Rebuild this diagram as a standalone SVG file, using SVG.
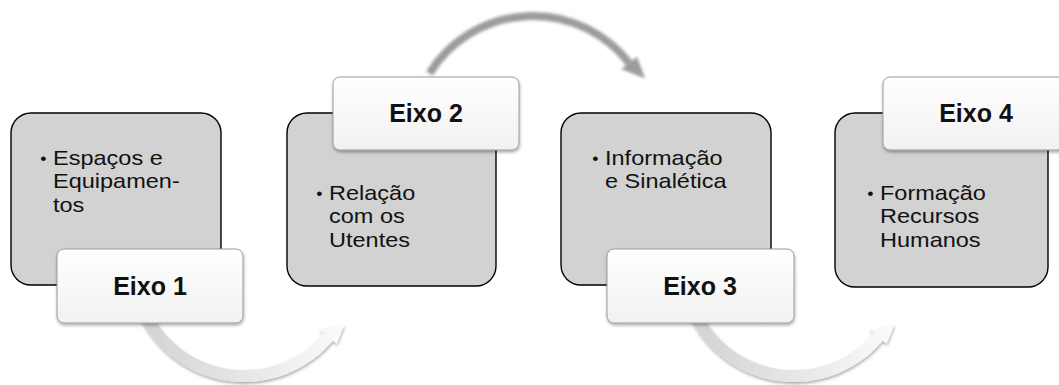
<svg xmlns="http://www.w3.org/2000/svg" width="1059" height="385" viewBox="0 0 1059 385">
<style>
.box{fill:#d2d2d2;stroke:#000;stroke-width:1.4}
.lbl{fill:url(#lblGrad);stroke:#9a9a9a;stroke-width:1}
.t{font-family:"Liberation Sans",Arial,sans-serif;font-size:21px;fill:#111}
.b{font-size:16px}
.h{font-family:"Liberation Sans",Arial,sans-serif;font-size:25px;font-weight:bold;fill:#111;text-anchor:middle}
</style>
<defs>
<linearGradient id="lblGrad" x1="0" y1="0" x2="0" y2="1">
<stop offset="0" stop-color="#ffffff"/>
<stop offset="1" stop-color="#f1f1f1"/>
</linearGradient>
<linearGradient id="arrGrad" gradientUnits="userSpaceOnUse" x1="140" y1="0" x2="345" y2="0">
<stop offset="0" stop-color="#d2d2d2"/>
<stop offset="0.5" stop-color="#e6e6e6"/>
<stop offset="1" stop-color="#fbfbfb"/>
</linearGradient>
<filter id="sh" x="-20%" y="-20%" width="140%" height="150%">
<feDropShadow dx="0.5" dy="2" stdDeviation="1.8" flood-color="#000" flood-opacity="0.32"/>
</filter>
<filter id="blur" x="-20%" y="-20%" width="140%" height="140%">
<feGaussianBlur stdDeviation="1.4"/>
</filter>
<path id="botArrow" d="M 138.9 315.0 A 116 116 0 0 0 332.9 340.6 L 336.7 343.8 L 344.5 324.5 L 319.8 329.6 L 323.7 332.9 A 104 104 0 0 1 149.7 310.0 Z" fill="url(#arrGrad)" filter="url(#sh)"/>
</defs>

<g id="connectors">
<use href="#botArrow"/>
<use href="#botArrow" transform="translate(550,0)"/>
<g id="topArrow" filter="url(#blur)">
<path d="M 429.5 73.3 A 122 122 0 0 1 629.1 62.9" fill="none" stroke="#9c9c9c" stroke-width="8"/>
<polygon points="637,56.7 645.1,78.4 621.2,69.1" fill="#9c9c9c"/>
</g>
</g>

<g id="node1">
<rect class="box" x="11" y="113" width="210" height="172" rx="20"/>
<text class="t" transform="translate(53,0) scale(1.12,1)"><tspan class="b" x="-11.5" y="164">•</tspan><tspan x="0" y="165">Espaços e</tspan><tspan x="0" y="188.5">Equipamen-</tspan><tspan x="0" y="212">tos</tspan></text>
<rect class="lbl" x="57" y="249" width="186" height="74" rx="7" filter="url(#sh)"/>
<text class="h" x="150" y="295">Eixo 1</text>
</g>

<g id="node2">
<rect class="box" x="287" y="113" width="209" height="173" rx="20"/>
<text class="t" transform="translate(329,0) scale(1.12,1)"><tspan class="b" x="-11.5" y="199">•</tspan><tspan x="0" y="200">Relação</tspan><tspan x="0" y="223.5">com os</tspan><tspan x="0" y="247">Utentes</tspan></text>
<rect class="lbl" x="333" y="77" width="186" height="73" rx="7" filter="url(#sh)"/>
<text class="h" x="426" y="122">Eixo 2</text>
</g>

<g id="node3">
<rect class="box" x="561" y="113" width="210" height="172" rx="20"/>
<text class="t" transform="translate(605,0) scale(1.12,1)"><tspan class="b" x="-11.5" y="164">•</tspan><tspan x="0" y="165">Informação</tspan><tspan x="0" y="188.5">e Sinalética</tspan></text>
<rect class="lbl" x="607" y="249" width="187" height="74" rx="7" filter="url(#sh)"/>
<text class="h" x="700" y="295">Eixo 3</text>
</g>

<g id="node4">
<rect class="box" x="835" y="113" width="213" height="174" rx="20"/>
<text class="t" transform="translate(880,0) scale(1.12,1)"><tspan class="b" x="-11.5" y="199">•</tspan><tspan x="0" y="200">Formação</tspan><tspan x="0" y="223.5">Recursos</tspan><tspan x="0" y="247">Humanos</tspan></text>
<rect class="lbl" x="883" y="77" width="186" height="73" rx="7" filter="url(#sh)"/>
<text class="h" x="976" y="122">Eixo 4</text>
</g>
</svg>
